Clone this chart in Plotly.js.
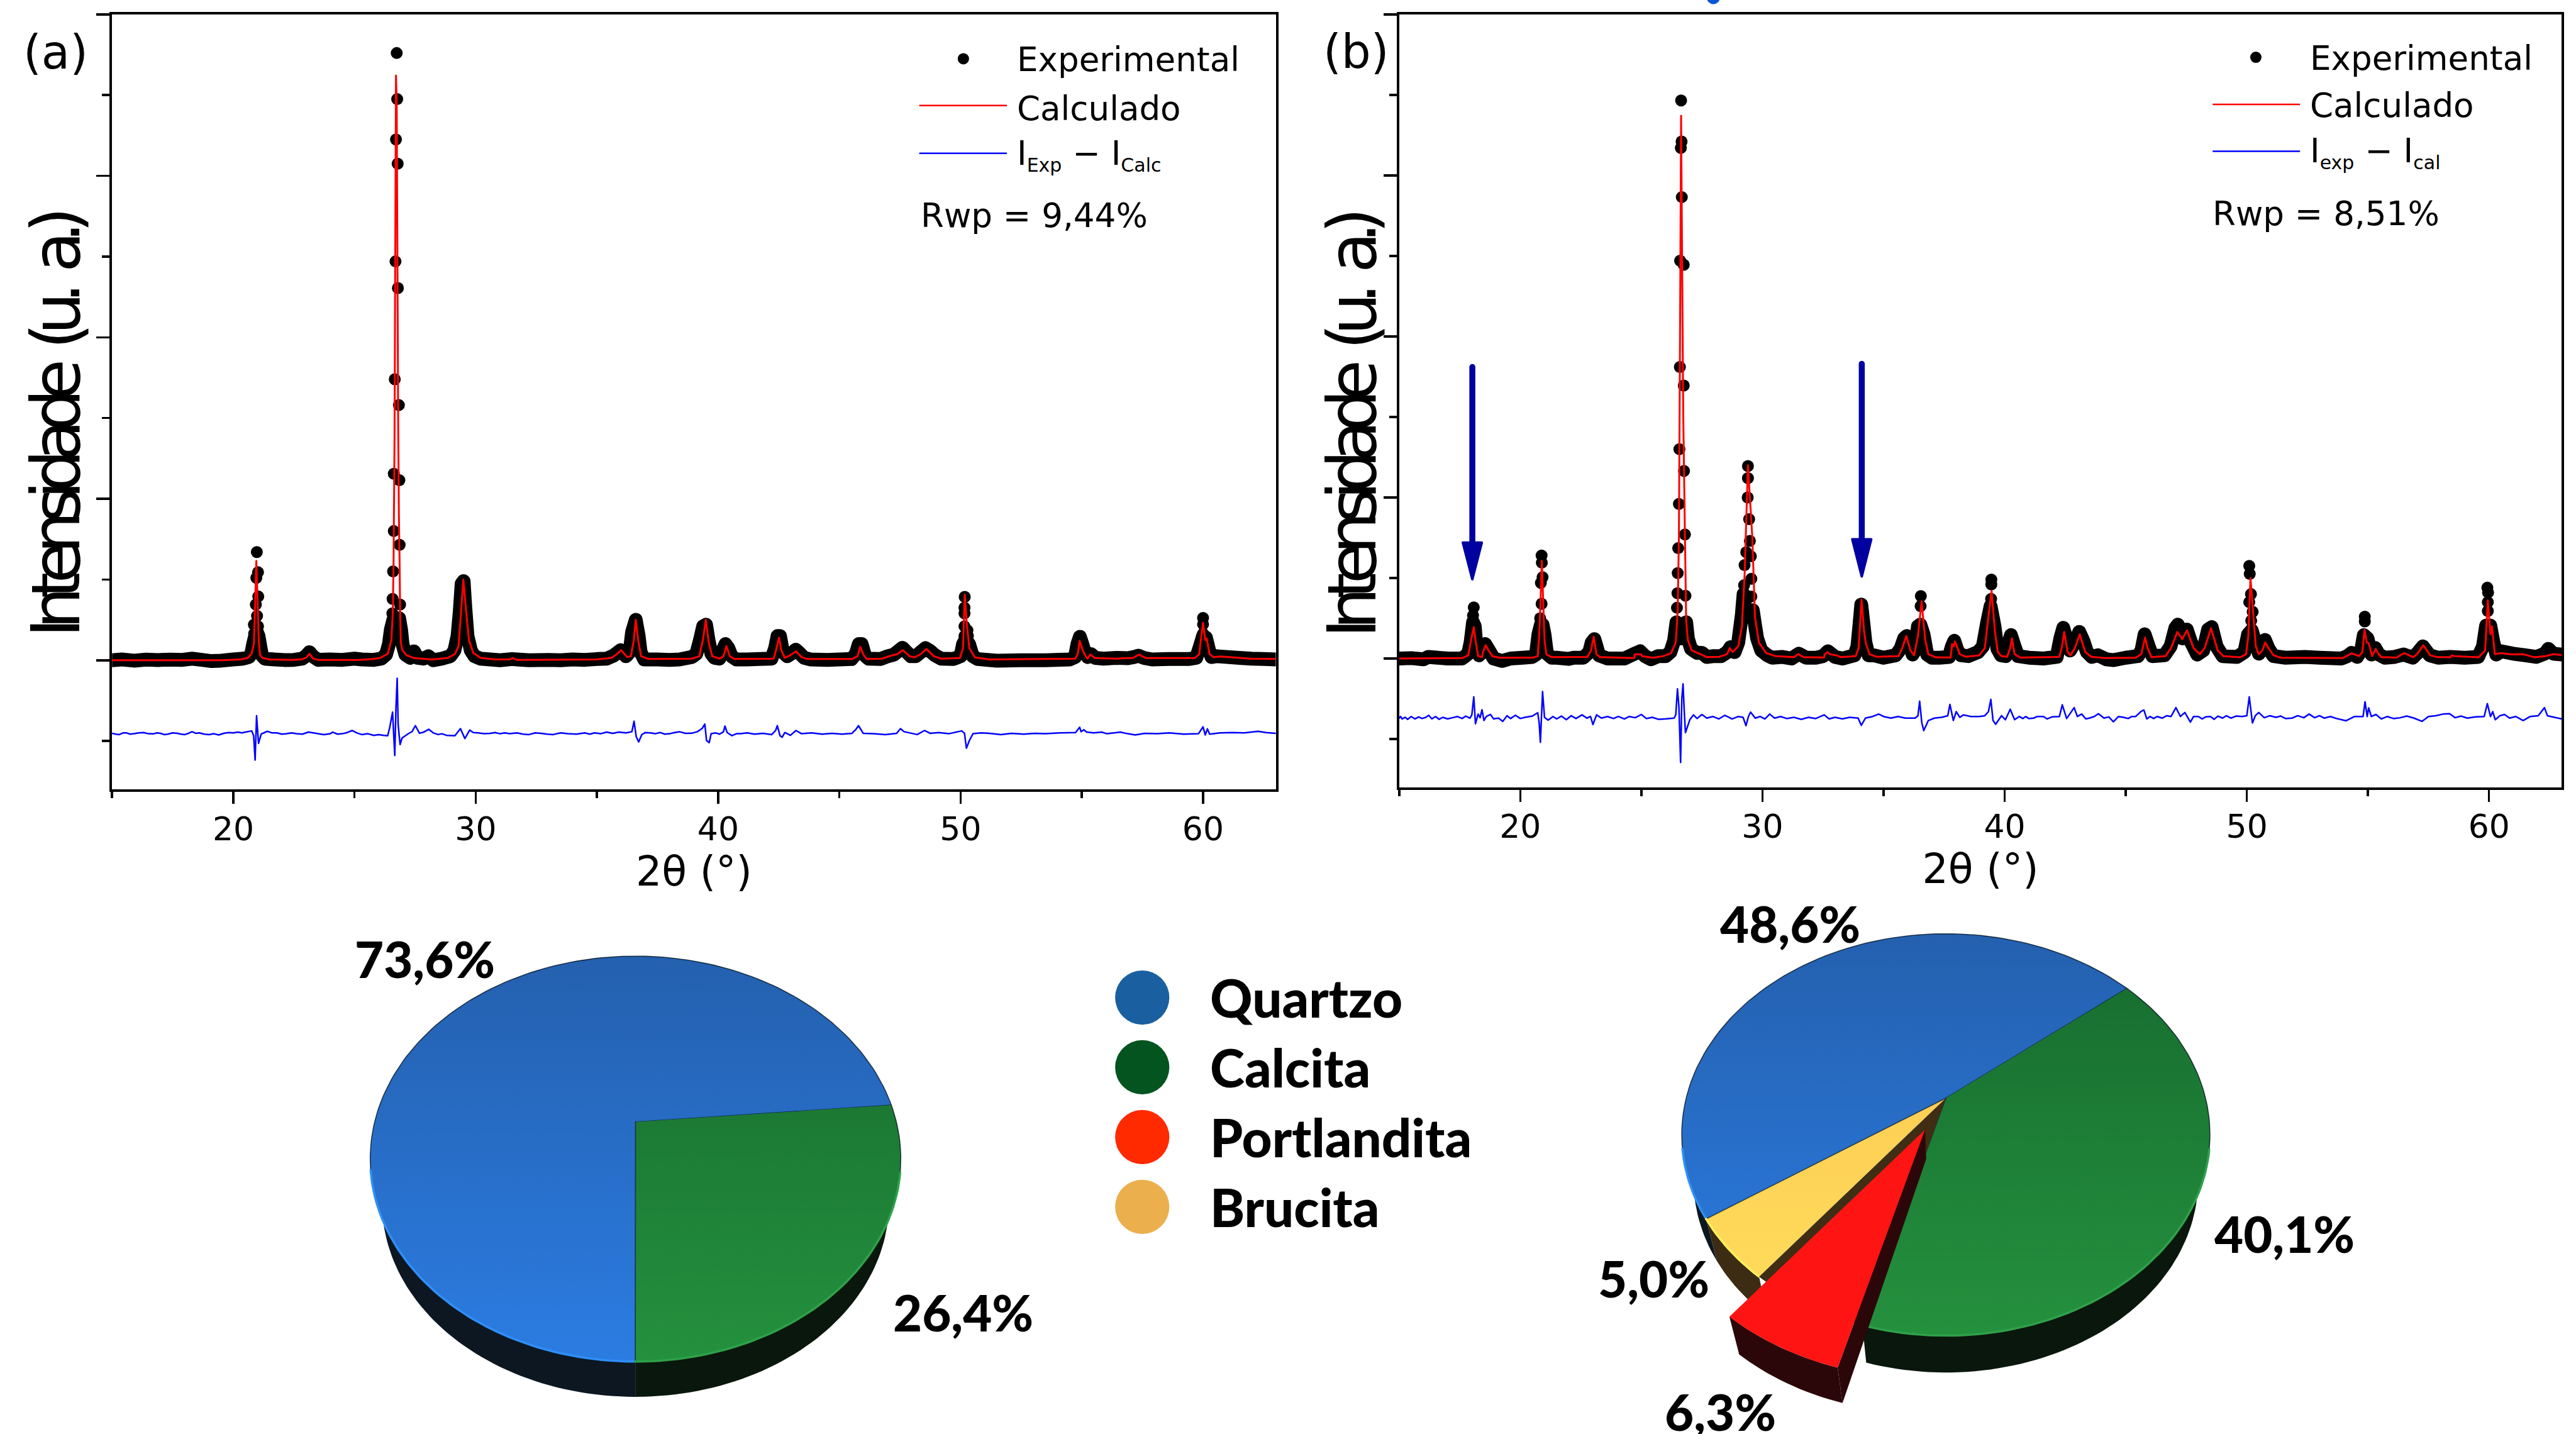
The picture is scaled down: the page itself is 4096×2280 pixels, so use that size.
<!DOCTYPE html>
<html><head><meta charset="utf-8">
<script src="https://cdn.plot.ly/plotly-3.0.1.min.js"></script>
<style>
html,body{margin:0;padding:0;background:#fff}
#chart{width:4096px;height:2280px}
.js-line{stroke-linejoin:round;stroke-linecap:round}
.annotation[data-index="0"] text,.annotation[data-index="1"] text{letter-spacing:-18px;word-spacing:18px}
</style></head><body><div id="chart"></div>
<script>
// ---------- panel (a) data ----------
const bandA=[[15,0],[15.4,.01],[15.9,-.005],[16.4,.008],[16.9,.003],[17.4,.008],[17.9,.005],[18.3,.02],[18.7,.005],[19.1,-.01],[19.5,-.005],[20,.01],[20.4,.02],[20.65,.04],[20.75,.09],[20.82,.2],[20.9,.3],[20.97,.35],[21.04,.3],[21.12,.16],[21.18,.06],[21.3,.02],[21.7,.01],[22.1,.003],[22.5,.005],[22.85,.02],[23.02,.06],[23.14,.1],[23.28,.05],[23.5,.005],[24,.01],[24.5,.005],[25,.02],[25.3,.01],[25.8,.005],[26.1,.02],[26.3,.07],[26.42,.2],[26.5,.38],[26.6,.5],[26.72,.45],[26.84,.52],[26.92,.38],[26.98,.2],[27.1,.07],[27.3,.03],[27.45,.11],[27.6,.03],[27.85,.02],[28.05,.05],[28.25,0],[28.6,.02],[28.95,.05],[29.12,.12],[29.25,.3],[29.34,.6],[29.42,.95],[29.5,.98],[29.57,.65],[29.66,.3],[29.8,.12],[29.95,.05],[30.2,.02],[30.6,.01],[31,0],[31.5,.015],[31.7,.01],[32.2,0],[33,.005],[33.5,0],[34,.01],[34.5,.005],[35,.015],[35.4,.02],[35.7,.06],[35.98,.125],[36.2,.05],[36.35,.1],[36.45,.35],[36.6,.5],[36.72,.3],[36.8,.1],[36.95,.01],[37.5,.01],[38,.005],[38.4,.01],[38.91,.04],[39.1,.08],[39.25,.25],[39.38,.42],[39.5,.44],[39.6,.25],[39.72,.08],[39.85,.03],[40.05,.02],[40.18,.12],[40.3,.2],[40.42,.15],[40.55,.05],[40.75,.01],[41.2,.01],[41.7,.015],[42.2,.02],[42.35,.15],[42.45,.3],[42.55,.3],[42.67,.1],[42.85,.05],[43.05,.09],[43.2,.13],[43.35,.09],[43.55,.03],[43.8,.01],[44.5,.005],[45,.01],[45.5,.015],[45.68,.08],[45.8,.2],[45.92,.2],[46.05,.06],[46.2,.02],[46.7,.015],[47,.05],[47.25,.07],[47.45,.12],[47.6,.155],[47.75,.11],[47.95,.05],[48.15,.05],[48.35,.1],[48.55,.15],[48.72,.12],[48.95,.06],[49.2,.02],[49.7,.015],[50,.05],[50.1,.2],[50.2,.25],[50.35,.2],[50.5,.05],[50.7,.015],[51.5,-.005],[52.5,0],[53.5,0],[54.5,.01],[54.72,.04],[54.82,.2],[54.92,.29],[55.02,.2],[55.12,.1],[55.25,.04],[55.38,.076],[55.55,.03],[55.9,.02],[56.4,.03],[56.9,.025],[57.15,.04],[57.33,.057],[57.55,.03],[57.9,.01],[58.6,.015],[59.4,.015],[59.72,.03],[59.85,.15],[60,.3],[60.12,.28],[60.25,.12],[60.35,.04],[60.55,.05],[61,.04],[61.5,.03],[62,.02],[62.5,.015],[63,.01]];
const dotsA=[[26.74,7.52],[26.76,6.95],[26.71,6.45],[26.78,6.15],[26.69,4.94],[26.79,4.61],[26.66,3.48],[26.83,3.16],[26.62,2.31],[26.85,2.23],[26.62,1.6],[26.86,1.43],[26.59,1.1],[26.88,.69],[26.57,.76],[26.56,.58],[26.52,.43],[26.91,.4],[20.97,1.34],[21.02,1.09],[20.95,1.02],[21.03,.79],[20.93,.69],[21.02,.42],[20.85,.44],[20.86,.33],[21.07,.24],[20.98,.55],[50.17,.785],[50.16,.65],[50.16,.58],[50.16,.42],[50.28,.37],[50.16,.3],[50.3,.3],[60,.525],[60,.445],[60,.33],[60.09,.29],[60.2,.22]];
const calcA=[[15,0],[19.5,0],[20.3,.01],[20.6,.03],[20.75,.08],[20.85,.2],[20.9,.7],[20.95,1.23],[21,.75],[21.05,.25],[21.1,.07],[21.2,.03],[21.5,.01],[22.4,.005],[22.8,.01],[23,.03],[23.14,.08],[23.3,.02],[23.5,.005],[25.2,.005],[25.76,.015],[26.07,.03],[26.37,.08],[26.52,.25],[26.58,.6],[26.61,1.2],[26.65,2.7],[26.68,5],[26.71,7.24],[26.74,6.9],[26.77,5],[26.8,3],[26.83,1.8],[26.86,1.2],[26.88,.6],[26.91,.22],[26.97,.13],[27.14,.064],[27.45,.027],[28.2,.01],[28.83,.027],[29.14,.076],[29.29,.175],[29.37,.5],[29.49,1],[29.6,.62],[29.72,.25],[29.9,.09],[30.2,.03],[30.83,.01],[31.4,.01],[31.52,.027],[31.7,.005],[34.98,.01],[35.6,.03],[35.82,.076],[36,.125],[36.24,.04],[36.4,.05],[36.52,.25],[36.6,.5],[36.7,.25],[36.82,.05],[37.13,.015],[38.91,.02],[39.22,.05],[39.37,.25],[39.49,.5],[39.62,.2],[39.76,.05],[40.06,.02],[40.22,.05],[40.34,.175],[40.48,.05],[40.68,.015],[42.29,.02],[42.41,.15],[42.51,.28],[42.6,.125],[42.75,.03],[42.94,.057],[43.21,.11],[43.44,.04],[43.67,.015],[45.52,.015],[45.75,.05],[45.86,.167],[45.98,.076],[46.13,.015],[46.75,.02],[47.13,.057],[47.39,.076],[47.61,.125],[47.9,.05],[48.1,.035],[48.36,.076],[48.59,.14],[48.9,.05],[49.2,.02],[49.97,.027],[50.1,.15],[50.17,.815],[50.25,.47],[50.36,.15],[50.59,.035],[51.2,.01],[54.74,.02],[54.83,.076],[54.91,.24],[55.02,.14],[55.11,.076],[55.23,.02],[55.35,.07],[55.54,.027],[56.43,.02],[57.12,.03],[57.35,.07],[57.66,.027],[59.66,.027],[59.84,.076],[60,.465],[60.09,.25],[60.15,.27],[60.27,.076],[60.42,.04],[60.73,.047],[61.96,.02],[63,.015]];
const diffA=[[15,-.905],[15.15,-.915],[15.3,-.92],[15.45,-.9],[15.6,-.9],[15.75,-.915],[15.9,-.91],[16.1,-.9],[16.3,-.895],[16.5,-.91],[16.7,-.912],[16.85,-.9],[17,-.905],[17.15,-.92],[17.3,-.915],[17.5,-.9],[17.7,-.905],[17.85,-.915],[18,-.92],[18.15,-.905],[18.3,-.885],[18.45,-.905],[18.6,-.9],[18.8,-.915],[19,-.92],[19.2,-.91],[19.4,-.925],[19.6,-.905],[19.8,-.895],[20,-.9],[20.2,-.89],[20.35,-.9],[20.5,-.89],[20.76,-.875],[20.84,-.934],[20.9,-1.236],[20.96,-.687],[21.04,-1.03],[21.15,-.914],[21.4,-.88],[21.6,-.9],[21.8,-.9],[22,-.915],[22.2,-.91],[22.4,-.9],[22.6,-.91],[22.85,-.915],[23.1,-.89],[23.3,-.9],[23.5,-.91],[23.75,-.92],[24,-.91],[24.1,-.89],[24.3,-.915],[24.5,-.91],[24.7,-.895],[24.9,-.87],[25.1,-.9],[25.3,-.92],[25.55,-.91],[25.8,-.93],[26,-.92],[26.2,-.93],[26.37,-.934],[26.45,-.835],[26.57,-.643],[26.66,-1.18],[26.71,-.589],[26.76,-.224],[26.8,-.8],[26.88,-1.044],[26.96,-.963],[27.22,-.909],[27.37,-.884],[27.51,-.81],[27.68,-.904],[27.85,-.89],[28.06,-.855],[28.25,-.9],[28.45,-.92],[28.6,-.91],[28.8,-.93],[29.14,-.934],[29.37,-.847],[29.55,-.97],[29.75,-.865],[29.9,-.895],[30.1,-.9],[30.35,-.91],[30.6,-.905],[30.8,-.895],[31,-.91],[31.2,-.9],[31.4,-.91],[31.7,-.9],[31.95,-.915],[32.2,-.92],[32.45,-.9],[32.7,-.905],[32.95,-.915],[33.2,-.92],[33.5,-.9],[33.8,-.91],[34.15,-.915],[34.5,-.9],[34.7,-.915],[34.9,-.9],[35.15,-.91],[35.4,-.89],[35.65,-.905],[35.9,-.89],[36.2,-.9],[36.44,-.885],[36.53,-.756],[36.62,-.946],[36.72,-1.012],[36.85,-.921],[37,-.895],[37.2,-.9],[37.4,-.91],[37.6,-.895],[37.8,-.915],[38,-.91],[38.2,-.895],[38.4,-.885],[38.65,-.905],[38.91,-.904],[39.14,-.885],[39.34,-.845],[39.45,-.79],[39.52,-.995],[39.63,-1.02],[39.71,-.91],[39.9,-.9],[40.06,-.915],[40.22,-.885],[40.28,-.815],[40.37,-.895],[40.57,-.934],[40.75,-.91],[40.91,-.91],[41.2,-.9],[41.5,-.915],[41.85,-.905],[42.21,-.92],[42.37,-.87],[42.44,-.81],[42.55,-.934],[42.64,-.953],[42.75,-.895],[42.98,-.93],[43.21,-.87],[43.44,-.91],[43.85,-.9],[44.29,-.915],[44.7,-.905],[45.1,-.915],[45.52,-.905],[45.67,-.86],[45.79,-.81],[45.98,-.905],[46.4,-.91],[46.9,-.92],[47.36,-.905],[47.52,-.847],[47.67,-.885],[48.21,-.92],[48.51,-.87],[48.74,-.905],[49.1,-.895],[49.51,-.91],[50.05,-.875],[50.16,-.905],[50.24,-1.089],[50.36,-.995],[50.51,-.91],[50.85,-.9],[51.2,-.905],[51.66,-.92],[52.1,-.905],[52.6,-.915],[53.05,-.905],[53.51,-.91],[54.1,-.9],[54.74,-.895],[54.91,-.83],[54.97,-.885],[55.08,-.86],[55.2,-.89],[55.5,-.9],[55.81,-.89],[56.04,-.91],[56.58,-.89],[56.9,-.91],[57.2,-.925],[57.6,-.905],[58.12,-.91],[58.6,-.9],[59.2,-.915],[59.81,-.91],[60,-.825],[60.09,-.925],[60.18,-.85],[60.27,-.915],[60.7,-.9],[61.2,-.895],[61.7,-.9],[62.27,-.88],[62.6,-.895],[63,-.905]];
// ---------- panel (b) data ----------
const bandB=[[15,0],[15.5,.005],[16,-.01],[16.2,.02],[17,0],[17.6,0],[17.85,.06],[17.95,.2],[18.05,.45],[18.12,.4],[18.2,.1],[18.3,.04],[18.45,.1],[18.55,.18],[18.75,.08],[18.9,0],[19.25,-.03],[19.6,0],[20.1,.01],[20.5,.02],[20.65,.05],[20.75,.3],[20.85,.42],[20.92,.42],[21,.3],[21.1,.06],[21.3,.01],[21.5,.01],[22,-.005],[22.2,.01],[22.6,.01],[22.85,.08],[22.95,.2],[23.06,.24],[23.15,.15],[23.25,.04],[23.6,0],[24,0],[24.3,0],[24.65,.05],[24.95,.09],[25.15,.03],[25.4,-.01],[25.7,.03],[26,.03],[26.2,.08],[26.35,.22],[26.45,.45],[26.55,.25],[26.75,.25],[26.85,.45],[26.92,.25],[27.05,.12],[27.3,.07],[27.5,.07],[27.7,.02],[28,.03],[28.3,.03],[28.55,.08],[28.68,.14],[28.85,.08],[29,.2],[29.15,.55],[29.22,.8],[29.3,.55],[29.45,.55],[29.6,.6],[29.7,.4],[29.78,.25],[29.95,.1],[30.2,.04],[30.4,.01],[30.8,.02],[31.2,0],[31.5,.06],[31.8,.01],[32.2,.01],[32.5,.03],[32.7,.09],[33,.02],[33.3,0],[33.8,.04],[33.92,.15],[34,.4],[34.08,.67],[34.18,.4],[34.25,.2],[34.38,.04],[34.6,.04],[35,.01],[35.5,.04],[35.7,.12],[35.85,.25],[35.96,.28],[36.05,.2],[36.2,.05],[36.3,.1],[36.42,.4],[36.52,.42],[36.65,.3],[36.8,.05],[37,.01],[37.3,.01],[37.7,.02],[37.82,.15],[37.92,.22],[38.05,.1],[38.2,.04],[38.5,.03],[38.9,.08],[39.1,.15],[39.28,.45],[39.42,.65],[39.58,.4],[39.7,.12],[39.85,.04],[40.05,.03],[40.15,.18],[40.26,.29],[40.4,.16],[40.55,.03],[41,.01],[41.6,0],[42.15,.02],[42.3,.25],[42.42,.38],[42.55,.25],[42.7,.1],[42.9,.2],[43.08,.33],[43.25,.22],[43.4,.08],[43.6,.02],[43.85,.04],[44.2,-.01],[44.5,-.02],[45,.01],[45.5,.03],[45.65,.1],[45.78,.3],[45.95,.15],[46.1,.03],[46.6,.04],[46.85,.15],[47.05,.38],[47.15,.42],[47.35,.25],[47.52,.36],[47.7,.2],[47.95,.05],[48.2,.1],[48.4,.36],[48.55,.39],[48.75,.15],[49,.03],[49.6,.02],[49.9,.08],[50.05,.3],[50.2,.35],[50.35,.2],[50.5,.06],[50.62,.12],[50.75,.23],[50.9,.12],[51.1,.03],[51.6,.01],[52.4,.02],[53,.01],[53.9,0],[54.15,.03],[54.32,.07],[54.55,.02],[54.72,.1],[54.83,.29],[54.98,.25],[55.15,.05],[55.3,.13],[55.45,.05],[55.7,.01],[56.1,.02],[56.47,.05],[56.85,.01],[57.05,.07],[57.27,.15],[57.55,.04],[57.9,.01],[58.4,.02],[59,.01],[59.55,.02],[59.75,.15],[59.88,.41],[60.05,.41],[60.18,.2],[60.3,.05],[60.5,.09],[61,.06],[61.5,.04],[61.95,.02],[62.3,.06],[62.45,.12],[62.65,.06],[63,.05]];
const dotsB=[[26.64,6.93],[26.66,6.42],[26.63,6.34],[26.67,5.73],[26.6,4.94],[26.75,4.89],[26.59,3.62],[26.75,3.39],[26.57,2.6],[26.76,2.33],[26.55,1.92],[26.8,1.54],[26.52,1.37],[26.5,1.06],[26.49,.81],[26.82,.78],[26.47,.63],[26.85,.44],[29.4,2.39],[29.4,2.24],[29.39,2],[29.45,1.73],[29.48,1.46],[29.33,1.32],[29.52,1.27],[29.26,1.16],[29.54,.99],[29.24,.91],[29.54,.77],[29.22,.63],[29.6,.58],[20.88,1.28],[20.89,1.19],[20.92,1.01],[20.85,.94],[20.88,.68],[20.82,.5],[20.88,.375],[20.92,.24],[18.08,.635],[18.05,.535],[18.03,.44],[18.08,.3],[34.08,.65],[34.08,.51],[34.08,.33],[36.54,.775],[36.53,.65],[36.5,.43],[36.5,.26],[39.45,.98],[39.45,.92],[39.44,.74],[50.1,1.15],[50.12,1.05],[50.17,.8],[50.1,.7],[50.24,.58],[50.18,.47],[50.18,.35],[54.87,.52],[54.87,.46],[54.87,.29],[59.93,.88],[59.96,.82],[59.95,.7],[59.95,.59],[60.03,.41],[59.87,.41]];
const calcB=[[15,0],[17.6,.005],[17.85,.04],[17.92,.15],[18,.28],[18.08,.39],[18.15,.23],[18.26,.03],[18.42,.017],[18.46,.08],[18.57,.165],[18.69,.1],[18.85,.03],[19.15,.01],[20.54,.012],[20.72,.03],[20.78,.28],[20.83,.65],[20.89,1.215],[20.95,.67],[21,.23],[21.08,.05],[21.3,.017],[22.77,.02],[22.92,.1],[23.03,.27],[23.15,.05],[23.3,.017],[24.6,.005],[24.72,.01],[24.72,.05],[25,.05],[25.03,.03],[25.46,.01],[25.92,.03],[26.23,.067],[26.42,.2],[26.5,.6],[26.55,1.51],[26.6,4.2],[26.64,6.74],[26.68,5],[26.73,3],[26.8,1.51],[26.85,.47],[26.92,.23],[27.08,.1],[27.54,.04],[27.69,.017],[28.23,.022],[28.54,.054],[28.65,.13],[28.77,.08],[29,.15],[29.15,.4],[29.26,1.02],[29.31,1.51],[29.4,2.4],[29.48,2],[29.58,1.51],[29.69,.52],[29.85,.2],[30.15,.067],[30.54,.03],[31.3,.017],[31.49,.054],[31.69,.017],[32.54,.012],[32.57,.05],[32.69,.08],[32.77,.054],[33.08,.037],[33.23,.017],[33.85,.03],[33.97,.13],[34.09,.73],[34.2,.33],[34.26,.2],[34.42,.054],[34.7,.022],[35.62,.03],[35.77,.13],[35.94,.28],[36.11,.1],[36.26,.04],[36.42,.28],[36.57,.71],[36.72,.23],[36.85,.054],[37.15,.015],[37.77,.012],[37.83,.18],[37.89,.15],[37.95,.21],[38.15,.054],[38.38,.022],[38.95,.04],[39.18,.13],[39.33,.52],[39.46,.84],[39.6,.33],[39.72,.08],[39.87,.03],[40.1,.022],[40.23,.13],[40.3,.25],[40.41,.054],[40.64,.012],[42.26,.02],[42.37,.15],[42.46,.33],[42.6,.08],[42.72,.04],[42.9,.13],[43.1,.3],[43.33,.08],[43.57,.022],[44.18,.005],[45.41,.01],[45.64,.054],[45.8,.26],[45.9,.13],[46.06,.017],[46.64,.03],[46.87,.13],[47.13,.33],[47.33,.24],[47.53,.35],[47.8,.13],[48.06,.054],[48.26,.13],[48.52,.375],[48.8,.1],[49.03,.03],[49.72,.015],[49.97,.054],[50.06,.28],[50.15,1],[50.26,.57],[50.37,.15],[50.49,.054],[50.64,.1],[50.76,.2],[50.87,.14],[51.1,.04],[51.41,.01],[53.95,.005],[54.33,.064],[54.64,.03],[54.77,.08],[54.86,.355],[54.95,.2],[55.03,.19],[55.17,.03],[55.32,.12],[55.44,.054],[55.56,.017],[56.18,.012],[56.49,.067],[56.87,.017],[57.03,.054],[57.29,.165],[57.57,.04],[57.87,.017],[58.41,.015],[58.46,.04],[58.57,.03],[59.57,.015],[59.84,.1],[59.95,.72],[60.06,.3],[60.12,.4],[60.24,.054],[60.49,.067],[60.95,.05],[61.41,.054],[61.87,.015],[62.33,.03],[62.64,.054],[63,.044]];
const diffB=[[15,-.74],[15.06,-.72],[15.12,-.75],[15.25,-.73],[15.35,-.755],[15.5,-.72],[15.65,-.75],[15.8,-.725],[15.95,-.745],[16.1,-.73],[16.22,-.705],[16.35,-.75],[16.5,-.72],[16.65,-.755],[16.8,-.73],[17,-.75],[17.2,-.735],[17.4,-.72],[17.6,-.745],[17.75,-.715],[17.92,-.74],[18,-.7],[18.08,-.476],[18.15,-.81],[18.26,-.69],[18.34,-.735],[18.42,-.636],[18.5,-.77],[18.6,-.72],[18.77,-.695],[18.9,-.75],[19.1,-.74],[19.28,-.78],[19.45,-.71],[19.6,-.745],[19.8,-.705],[20,-.745],[20.2,-.73],[20.5,-.715],[20.72,-.673],[20.78,-.8],[20.83,-1.04],[20.92,-.41],[21,-.73],[21.15,-.765],[21.35,-.72],[21.5,-.75],[21.7,-.715],[21.9,-.76],[22.1,-.71],[22.3,-.745],[22.55,-.7],[22.75,-.74],[22.9,-.72],[23,-.82],[23.15,-.7],[23.35,-.74],[23.6,-.72],[23.85,-.745],[24.05,-.72],[24.3,-.75],[24.5,-.72],[24.75,-.735],[25,-.695],[25.2,-.745],[25.45,-.73],[25.7,-.755],[26,-.75],[26.35,-.74],[26.42,-.7],[26.49,-.377],[26.55,-.6],[26.62,-1.29],[26.67,-.5],[26.72,-.315],[26.77,-.65],[26.82,-.92],[27,-.76],[27.15,-.7],[27.3,-.745],[27.5,-.695],[27.7,-.74],[27.95,-.72],[28.2,-.75],[28.45,-.705],[28.75,-.75],[29,-.72],[29.2,-.73],[29.32,-.834],[29.42,-.72],[29.51,-.666],[29.7,-.74],[29.9,-.72],[30.1,-.75],[30.3,-.69],[30.5,-.74],[30.75,-.72],[31,-.745],[31.3,-.73],[31.6,-.755],[31.9,-.73],[32.2,-.745],[32.55,-.7],[32.75,-.75],[33,-.73],[33.3,-.75],[33.6,-.73],[33.95,-.74],[34.08,-.83],[34.25,-.74],[34.55,-.72],[34.8,-.69],[35,-.72],[35.3,-.74],[35.6,-.72],[35.9,-.74],[36.3,-.74],[36.42,-.71],[36.49,-.53],[36.58,-.8],[36.66,-.895],[36.85,-.77],[37.1,-.74],[37.4,-.73],[37.65,-.71],[37.74,-.57],[37.88,-.77],[38,-.66],[38.15,-.73],[38.3,-.7],[38.6,-.72],[38.95,-.72],[39.18,-.71],[39.33,-.66],[39.43,-.508],[39.52,-.77],[39.63,-.816],[39.87,-.71],[40.03,-.76],[40.23,-.63],[40.41,-.76],[40.6,-.72],[40.75,-.745],[40.87,-.72],[41,-.745],[41.2,-.74],[41.35,-.72],[41.6,-.72],[41.75,-.75],[41.95,-.725],[42.26,-.72],[42.38,-.575],[42.56,-.745],[42.87,-.61],[43,-.72],[43.18,-.69],[43.35,-.75],[43.5,-.74],[43.7,-.72],[43.87,-.685],[44.1,-.74],[44.3,-.725],[44.49,-.785],[44.7,-.72],[44.9,-.73],[45.1,-.745],[45.25,-.72],[45.41,-.72],[45.64,-.655],[45.75,-.64],[45.87,-.75],[46,-.72],[46.15,-.745],[46.3,-.72],[46.5,-.74],[46.7,-.71],[46.87,-.72],[47.07,-.61],[47.26,-.72],[47.44,-.67],[47.67,-.79],[47.8,-.72],[48,-.72],[48.15,-.75],[48.3,-.725],[48.5,-.72],[48.65,-.755],[48.8,-.715],[49,-.74],[49.15,-.71],[49.35,-.74],[49.55,-.715],[49.8,-.72],[50,-.71],[50.1,-.476],[50.23,-.8],[50.35,-.71],[50.49,-.67],[50.72,-.735],[50.95,-.71],[51.2,-.73],[51.4,-.715],[51.6,-.745],[51.87,-.74],[52.1,-.71],[52.35,-.735],[52.57,-.69],[52.8,-.735],[53,-.71],[53.2,-.74],[53.45,-.72],[53.7,-.745],[54.1,-.773],[54.45,-.72],[54.8,-.72],[54.88,-.537],[54.97,-.72],[55.03,-.614],[55.14,-.72],[55.33,-.695],[55.55,-.75],[55.8,-.72],[56.05,-.745],[56.34,-.735],[56.6,-.715],[56.9,-.74],[57.23,-.78],[57.5,-.72],[57.8,-.71],[58.1,-.69],[58.37,-.685],[58.6,-.735],[58.85,-.715],[59.1,-.74],[59.45,-.725],[59.8,-.72],[59.93,-.56],[60.06,-.72],[60.15,-.66],[60.26,-.76],[60.45,-.71],[60.64,-.695],[60.85,-.74],[61.1,-.72],[61.41,-.77],[61.7,-.72],[62.03,-.71],[62.29,-.61],[62.41,-.71],[62.7,-.73],[63,-.75]];
// arrows marking the two peaks in (b)
const arrowX=[18.02,34.1], arrowTop=[3.62,3.66], arrowHead=[1.44,1.48], arrowTip=[0.985,1.02];
// ---------- composition ----------
const phases=['Quartzo','Calcita','Portlandita','Brucita'];
const phaseSwatch=['#1a60a0','#04541f','#ff2a00','#ecaf4e'];
const pieASlices=['Quartzo','Calcita'];
const pieAValues=[73.6,26.4];
const pieBSlices=['Quartzo','Brucita','Portlandita','Calcita'];
const pieBValues=[48.6,5.0,6.3,40.1];
const xTicks=[20,30,40,50,60];

// ---------- geometry in reference pixels ----------
const RW=4321,RH=2405,S=4096/RW;
const px=x=>x/RW, py=y=>1-y/RH;
const pts=a=>({x:a.map(p=>p[0]),y:a.map(p=>p[1])});
const look={
 Quartzo:{grad:['#2460ae','#2b7ce2'],wall:'#0c1722',rim:'#2f8ff9'},
 Calcita:{grad:['#166a2e','#24913e'],wall:'#0a170c',rim:'#2fa14a'},
 Portlandita:{grad:['#ff1414','#ff1414'],wall:'#2c0709',rim:'#ff1414'},
 Brucita:{grad:['#fbc450','#ffde5c'],wall:'#3d2c14',rim:'#fff05a'}
};
const pieGeoA={cx:1066,cy:1943.5,a:445,b:340,cy2:2018,s:.955,k:.182,start:5};
const pieGeoB={cx:3264,cy:1903,a:443,b:337,cy2:1980,s:.955,k:.182,start:39,explode:'Portlandita',off:[-35,53],grow:1.047};
function phi(g,deg){ // perspective view of a circle: the hub sits above the ellipse centre
 const p=g.k/(1+Math.sqrt(1-g.k*g.k)),t=deg*Math.PI/180,c=Math.cos(t),s=Math.sin(t);
 const nr=c,ni=s+p,dr=1+p*s,di=-p*c;
 return Math.atan2(ni*dr-nr*di,nr*dr+ni*di);
}
const topRim=(g,d)=>{const f=phi(g,d);return [g.cx+g.a*Math.cos(f),g.cy-g.b*Math.sin(f)]};
const lowRim=(g,d)=>{const f=phi(g,d);return [g.cx+g.s*g.a*Math.cos(f),g.cy2-g.s*g.b*Math.sin(f)]};
const hub=g=>[g.cx,g.cy-g.k*g.b];
const sweep=(a,b)=>{const o=[];const n=Math.max(2,Math.ceil(Math.abs(b-a)/1.5));for(let i=0;i<=n;i++)o.push(a+(b-a)*i/n);return o};
const ovl={xaxis:'x3',yaxis:'y3',hoverinfo:'skip',showlegend:false};
function poly(list,color,name,line){const d=pts(list);return Object.assign({type:'scatter',mode:'lines',x:d.x,y:d.y,name,fill:'toself',fillcolor:color,line:line||{width:0,color:color}},ovl)}
function pieTraces(g,names,vals){
 const out=[],tops=[],lates=[];let a0=g.start;
 names.forEach((nm,i)=>{
  const a1=a0+vals[i]*3.6,L=look[nm],ang=sweep(a0,a1);
  if(nm===g.explode){
   const h=hub(g),h2=[h[0]+g.off[0],h[1]+g.off[1]];
   const mv=q=>[h2[0]+(q[0]-h[0])*g.grow,h2[1]+(q[1]-h[1])*g.grow];
   const low=q=>[g.cx+(q[0]-g.cx)*g.s,g.cy2+(q[1]-g.cy)*g.s];
   const top=ang.map(d=>mv(topRim(g,d)));
   lates.push(poly([h].concat(ang.map(d=>topRim(g,d))),'#3f2d14',nm+' gap'));
   lates.push(poly(top.concat(top.map(low).reverse()),L.wall,nm+' wall'));
   const e=top[top.length-1];
   lates.push(poly([h2,[h2[0]+2,h2[1]+49],low(e),e],L.wall,nm+' cut'));
   lates.push(poly([h2].concat(top),L.grad[0],nm));
  }else{
   out.push(poly(ang.map(d=>topRim(g,d)).concat(ang.slice().reverse().map(d=>lowRim(g,d))),L.wall,nm+' wall'));
   const t=poly([hub(g)].concat(ang.map(d=>topRim(g,d))),L.grad[0],nm,{width:1.6,color:'rgba(8,24,40,.75)'});
   t.fillgradient={type:'vertical',colorscale:[[0,L.grad[0]],[1,L.grad[1]]],start:g.cy-g.b,stop:g.cy+g.b};
   delete t.fillcolor;
   tops.push(t);
   const low=ang.filter(d=>Math.sin(phi(g,d))<-0.05).map(d=>topRim(g,d));
   if(low.length){const r=pts(low);tops.push(Object.assign({type:'scatter',mode:'lines',x:r.x,y:r.y,name:nm+' rim',line:{color:L.rim,width:3.5}},ovl))}
  }
  a0=a1;
 });
 return out.concat(tops,lates);
}
function panel(xa,ya,band,dots,calc,diff){
 const b=pts(band),d=pts(dots),c=pts(calc),f=pts(diff),ax={xaxis:xa,yaxis:ya,hoverinfo:'skip',showlegend:false};
 return [
  Object.assign({type:'scatter',mode:'lines',x:b.x,y:b.y,name:'Experimental',line:{color:'#000',width:22,simplify:false}},ax),
  Object.assign({type:'scatter',mode:'markers',x:d.x,y:d.y,name:'Experimental',marker:{color:'#000',size:19}},ax),
  Object.assign({type:'scatter',mode:'lines',x:c.x,y:c.y,name:'Calculado',line:{color:'#ff0000',width:3,simplify:false}},ax),
  Object.assign({type:'scatter',mode:'lines',x:f.x,y:f.y,name:'Iexp - Ical',line:{color:'#0000ff',width:2.5,simplify:false}},ax)
 ];
}
const traces=[].concat(
 panel('x','y',bandA,dotsA,calcA,diffA),
 panel('x2','y2',bandB,dotsB,calcB,diffB),
 pieTraces(pieGeoA,pieASlices,pieAValues),
 pieTraces(pieGeoB,pieBSlices,pieBValues)
);
arrowX.forEach((x,i)=>{
 traces.push({type:'scatter',mode:'lines',xaxis:'x2',yaxis:'y2',x:[x,x],y:[arrowTop[i],arrowHead[i]],line:{color:'#0000a0',width:9.5},hoverinfo:'skip',showlegend:false,name:'seta'});
 traces.push({type:'scatter',mode:'lines',xaxis:'x2',yaxis:'y2',x:[x-.39,x+.39,x,x-.39],y:[arrowHead[i],arrowHead[i],arrowTip[i],arrowHead[i]],fill:'toself',fillcolor:'#0000a0',line:{color:'#0000a0',width:4},hoverinfo:'skip',showlegend:false,name:'seta'});
});
const axisCommon={showline:true,mirror:true,linecolor:'#000',linewidth:4,showgrid:false,zeroline:false,ticks:'outside',tickcolor:'#000',tickwidth:3.5};
const xAxis=(dom,anch)=>Object.assign({},axisCommon,{domain:dom,anchor:anch,range:[15,63],tickmode:'array',tickvals:xTicks,ticktext:xTicks.map(String),ticklen:19,tickfont:{family:'DejaVu Sans',size:52,color:'#000'},ticklabelstandoff:-5,
 minor:{tickmode:'array',tickvals:[15,25,35,45,55],ticks:'outside',ticklen:10,tickwidth:3.5,tickcolor:'#000',showgrid:false},
 title:{text:'2θ (°)',font:{family:'DejaVu Sans',size:65,color:'#000'},standoff:6}});
const yAxis=(dom,anch)=>Object.assign({},axisCommon,{domain:dom,anchor:anch,range:[-1.6,8],tickmode:'array',tickvals:[0,2,4,6,8],ticklen:21,showticklabels:false,
 minor:{tickmode:'array',tickvals:[-1,1,3,5,7],ticks:'outside',ticklen:12,tickwidth:3.5,tickcolor:'#000',showgrid:false}});
const hidden=(r,anch)=>({domain:[0,1],range:r,visible:false,fixedrange:true,anchor:anch});
const ann=(text,x,y,size,extra)=>Object.assign({xref:'paper',yref:'paper',x:px(x),y:py(y),text,showarrow:false,xanchor:'left',yanchor:'middle',font:{family:'DejaVu Sans',size:size*S,color:'#000'}},extra||{});
const yTitle=(x,y)=>ann('Intensidade (u. a.)',x,y,112,{textangle:-90,xanchor:'center',yanchor:'middle'});
const bold=(text,x,y)=>ann(text,x,y,84,{xanchor:'center',font:{family:'Lato',size:84*S,color:'#000',weight:900}});
const nb='\u00a0';
const subS=s=>'<sub><span style="font-size:30px">'+s+'</span></sub>';
const annotations=[
 yTitle(94,718),yTitle(2268,718),
 ann('(a)',37,88,78),ann('(b)',2217,86,78),
 ann('Experimental',1704,100,56),ann('Calculado',1704,182,56),
 ann('I'+subS('Exp')+nb+'−'+nb+'I'+subS('Calc'),1704,260,56),ann('Rwp'+nb+'='+nb+'9,44%',1542,362,56),
 ann('Experimental',3873,97.6,56),ann('Calculado',3873,177,56),
 ann('I'+subS('exp')+nb+'−'+nb+'I'+subS('cal'),3873,256,56),ann('Rwp'+nb+'='+nb+'8,51%',3709,359,56),
 bold('73,6%',713,1608),bold('26,4%',1616,2200),
 bold('48,6%',3003,1548),bold('40,1%',3832,2068),bold('5,0%',2774,2143),bold('6,3%',2886,2367)
];
const legendY=[1673,1790,1907,2024];
phases.forEach((p,i)=>annotations.push(ann(p,2028,legendY[i],88,{font:{family:'Lato',size:88*S,color:'#000',weight:900}})));
const circ=(x,y,r,c)=>({type:'circle',xref:'paper',yref:'paper',x0:px(x-r),x1:px(x+r),y0:py(y+r),y1:py(y-r),fillcolor:c,line:{width:0}});
const ln=(x0,x1,y,c)=>({type:'line',xref:'paper',yref:'paper',x0:px(x0),x1:px(x1),y0:py(y),y1:py(y),line:{color:c,width:2.5}});
const shapes=[
 circ(1616,98.6,9.5,'#000'),ln(1542,1689,177,'#ff0000'),ln(1542,1689,257,'#0000ff'),
 circ(3784,96,9.5,'#000'),ln(3711.5,3858,175,'#ff0000'),ln(3711.5,3858,253.6,'#0000ff'),
 circ(2874,-4,11,'#0a55d6')
];
phases.forEach((p,i)=>shapes.push(circ(1916,legendY[i],45.5,phaseSwatch[i])));
const layout={
 width:4096,height:2280,margin:{l:0,r:0,t:0,b:0},paper_bgcolor:'#fff',plot_bgcolor:'rgba(0,0,0,0)',showlegend:false,
 xaxis:xAxis([px(188),px(2140)],'y'),yaxis:yAxis([py(1324),py(24)],'x'),
 xaxis2:xAxis([px(2347),px(4297)],'y2'),yaxis2:yAxis([py(1320.5),py(24)],'x2'),
 xaxis3:hidden([0,RW],'y3'),yaxis3:hidden([RH,0],'x3'),
 annotations,shapes
};
Plotly.newPlot('chart',traces,layout,{displayModeBar:false,staticPlot:true});
</script></body></html>
